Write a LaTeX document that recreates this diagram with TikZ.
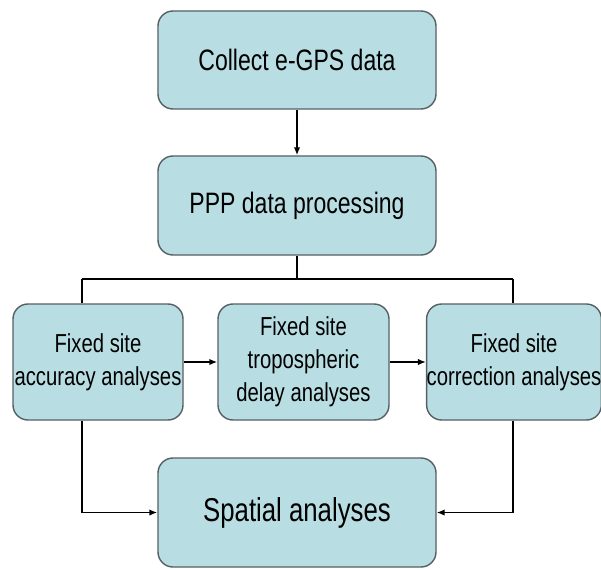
\documentclass[tikz,border=0pt]{standalone}
\usepackage{fontspec}
\setmainfont{Liberation Sans}[FakeStretch=0.78]
\usetikzlibrary{arrows.meta}

\definecolor{boxfill}{RGB}{184,222,227}
\definecolor{boxline}{RGB}{85,95,100}

\tikzset{
    stepbox/.style={draw=boxline, line width=0.8pt, fill=boxfill, rounded corners=0.3cm,
        align=center, inner sep=0pt},
    link/.style={line width=1.1pt, black},
    arr/.style={link, -{Latex[length=1.6mm,width=1.3mm]}}
}

\begin{document}
\begin{tikzpicture}

    % 画布范围
    \useasboundingbox (0,0) rectangle (12.02,-11.38);

    % 上面两个框
    \node[stepbox, minimum width=5.56cm, minimum height=1.96cm, font=\fontsize{16.8}{20}\selectfont]
        (collect) at (5.94,-1.2) {Collect e-GPS data};
    \node[stepbox, minimum width=5.56cm, minimum height=1.98cm, font=\fontsize{16.8}{20}\selectfont]
        (ppp) at (5.94,-4.11) {PPP data processing};

    % 中间三个框
    \node[stepbox, minimum width=3.4cm, minimum height=2.32cm, font=\fontsize{14.8}{18.8}\selectfont]
        (acc) at (1.96,-7.24) {Fixed site\\accuracy analyses};
    \node[stepbox, minimum width=3.42cm, minimum height=2.32cm, font=\fontsize{14.8}{18.8}\selectfont]
        (tropo) at (6.07,-7.24) {Fixed site\\tropospheric\\delay analyses};
    \node[stepbox, minimum width=3.44cm, minimum height=2.32cm, font=\fontsize{14.8}{18.8}\selectfont]
        (corr) at (10.28,-7.24) {Fixed site\\correction analyses};

    % 底部框
    \node[stepbox, minimum width=5.56cm, minimum height=2.18cm, font=\fontsize{18.8}{22}\selectfont]
        (spatial) at (5.94,-10.25) {Spatial analyses};

    % 分支线
    \coordinate (busL) at (1.64,-5.58);
    \coordinate (busR) at (10.26,-5.58);

    \draw[arr] (collect) -- (ppp);
    \draw[link] (ppp.south) -- (ppp.south |- busL);
    \draw[link] (busL) -- (busR);
    \draw[link] (busL) -- (busL |- acc.north);
    \draw[link] (busR) -- (busR |- corr.north);

    \draw[arr] (acc) -- (tropo);
    \draw[arr] (tropo) -- (corr);

    \draw[arr] (acc.south -| busL) |- (spatial.west);
    \draw[arr] (corr.south -| busR) |- (spatial.east);

\end{tikzpicture}
\end{document}
